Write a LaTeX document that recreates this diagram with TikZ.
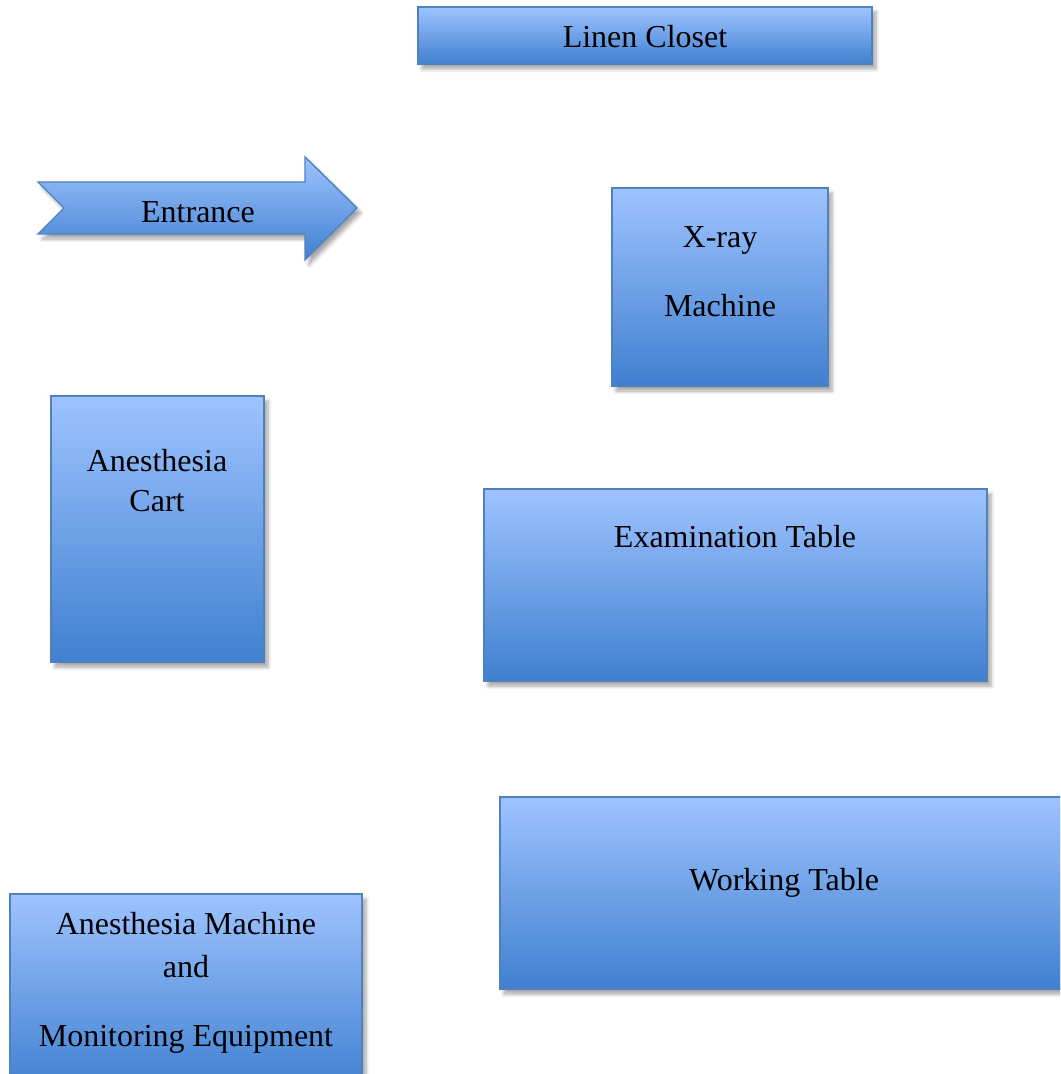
\documentclass[tikz,border=0pt]{standalone}
\usepackage{fontspec}
\setmainfont{Liberation Serif}
\usetikzlibrary{shadows.blur}
\definecolor{boxtop}{RGB}{158,195,255}
\definecolor{boxbottom}{RGB}{64,128,208}
\definecolor{boxline}{RGB}{79,129,189}
\tikzset{
	furniture/.style={draw=boxline, line width=0.7pt, top color=boxtop, bottom color=boxbottom,
		blur shadow={shadow xshift=2pt, shadow yshift=-2.5pt, shadow blur steps=6, shadow opacity=35}},
	itemtext/.style={font=\fontsize{16}{19}\selectfont, anchor=base, inner sep=0pt}
}
\newcommand{\furniture}[4] % left, top, right, bottom in px
{
	\path[furniture] (#1,#2) rectangle (#3,#4);
}

\begin{document}
\begin{tikzpicture}[x=0.5pt, y=-0.5pt]
	% page: 1060 x 1074 px
	\useasboundingbox (0,0) rectangle (1060,1074);
	\begin{scope}
	\clip (0,0) rectangle (1060,1074);
	
	% linen closet
	\furniture{418}{7}{872}{64};
	\node[itemtext] (linen) at (645,48) {Linen Closet};
	
	% entrance arrow
	\path[furniture] (38,182) -- (305,182) -- (305,157) -- (357,208) -- (305,260) -- (305,234) -- (38,234) -- (64,208) -- cycle;
	\node[itemtext] (entrance) at (198,223) {Entrance};
	
	% x-ray machine
	\furniture{612}{188}{828}{386};
	\node[itemtext] (xray) at (720,248) {X-ray};
	\node[itemtext] (xraymachine) at (720,317) {Machine};
	
	% anesthesia cart
	\furniture{51}{396}{264}{662};
	\node[itemtext] (cart) at (157,471) {Anesthesia};
	\node[itemtext] (cartb) at (157,511) {Cart};
	
	% examination table
	\furniture{484}{489}{987}{681};
	\node[itemtext] (exam) at (735,547) {Examination Table};
	
	% working table
	\furniture{500}{797}{1075}{989};
	\node[itemtext] (working) at (784,890) {Working Table};
	
	% anesthesia machine
	\furniture{10}{894}{362}{1090};
	\node[itemtext] (machine) at (186,934) {Anesthesia Machine};
	\node[itemtext] (machineand) at (186,977) {and};
	\node[itemtext] (monitor) at (186,1046) {Monitoring Equipment};
	
	\end{scope}
\end{tikzpicture}
\end{document}
